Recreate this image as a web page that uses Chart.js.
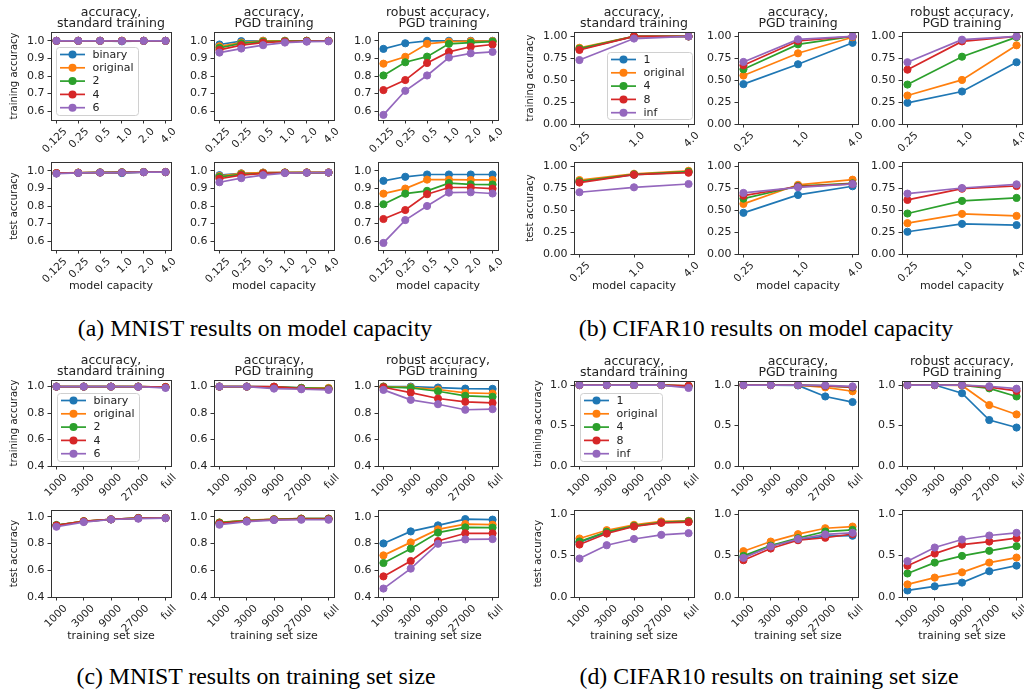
<!DOCTYPE html>
<html><head><meta charset="utf-8">
<script src="https://cdn.jsdelivr.net/npm/chart.js@4.4.1/dist/chart.umd.min.js"></script>
<style>
body{margin:0;width:1024px;height:690px;background:#fff;position:relative;overflow:hidden;}
canvas{position:absolute;}
.cap{position:absolute;font-family:"Liberation Serif","Times New Roman",serif;font-size:23.8px;line-height:26px;color:#000;white-space:nowrap;transform:translateX(-50%);}
</style></head><body>
<div class="cap" style="left:255px;top:315px">(a) MNIST results on model capacity</div>
<div class="cap" style="left:766px;top:315px">(b) CIFAR10 results on model capacity</div>
<div class="cap" style="left:256px;top:663px">(c) MNIST results on training set size</div>
<div class="cap" style="left:769px;top:663px">(d) CIFAR10 results on training set size</div>
<script>
// ---------- categories / tick labels ----------
const capMnist = ['0.125','0.25','0.5','1.0','2.0','4.0'];
const capCifar = ['0.25','1.0','4.0'];
const sizeCats = ['1000','3000','9000','27000','full'];
const seriesMnist = ['binary','original','2','4','6'];
const seriesCifar = ['1','original','4','8','inf'];
const yTicksMnistCap = [0.6,0.7,0.8,0.9,1.0];
const yTicksCifarCap = [0,0.25,0.5,0.75,1.0];
const yTicksMnistSize = [0.4,0.6,0.8,1.0];
const yTicksCifarSize = [0,0.5,1.0];
const colTitles = [['accuracy,','standard training'],['accuracy,','PGD training'],['robust accuracy,','PGD training']];

// ---------- (a) MNIST, model capacity ----------
const aTrainStd = [[1,1,1,0.997,1,1],[1,1,1,1,1,1],[1,1,1,1,1,1],[1,1,1,1,1,1],[1,1,1,0.999,1,1]];
const aTrainPgd = [[0.979,0.998,1,1,1,1],[0.969,0.99,1,1,1,1],[0.96,0.985,0.995,0.998,1,1],[0.948,0.975,0.99,0.996,0.998,0.999],[0.933,0.956,0.975,0.99,0.995,0.997]];
const aTrainRob = [[0.954,0.986,1,1,1,1],[0.870,0.909,0.983,0.995,0.998,0.998],[0.803,0.878,0.910,0.983,0.99,0.995],[0.720,0.777,0.874,0.937,0.966,0.979],[0.579,0.716,0.803,0.905,0.929,0.937]];
const aTestStd = [[0.986,0.989,0.990,0.987,0.992,0.992],[0.987,0.990,0.991,0.991,0.993,0.993],[0.986,0.989,0.991,0.992,0.993,0.993],[0.987,0.989,0.990,0.991,0.992,0.993],[0.984,0.988,0.990,0.990,0.992,0.993]];
const aTestPgd = [[0.975,0.985,0.99,0.99,0.99,0.99],[0.97,0.985,0.99,0.991,0.991,0.991],[0.965,0.98,0.986,0.99,0.99,0.99],[0.955,0.975,0.985,0.989,0.99,0.99],[0.935,0.958,0.975,0.987,0.989,0.99]];
const aTestRob = [[0.943,0.966,0.979,0.979,0.979,0.979],[0.870,0.899,0.950,0.950,0.948,0.948],[0.810,0.870,0.886,0.930,0.923,0.922],[0.726,0.777,0.867,0.905,0.905,0.899],[0.590,0.720,0.800,0.876,0.878,0.871]];

// ---------- (b) CIFAR10, model capacity ----------
const bTrainStd = [[0.855,1,1],[0.87,1,1],[0.86,1,1],[0.845,1,1],[0.73,0.975,1]];
const bTrainPgd = [[0.455,0.682,0.927],[0.553,0.807,0.99],[0.625,0.909,1],[0.67,0.947,1],[0.708,0.966,1]];
const bTrainRob = [[0.242,0.371,0.705],[0.325,0.503,0.898],[0.45,0.768,0.992],[0.62,0.943,1],[0.705,0.962,1]];
const bTestStd = [[0.825,0.905,0.935],[0.844,0.916,0.95],[0.83,0.91,0.94],[0.815,0.905,0.928],[0.705,0.761,0.799]];
const bTestPgd = [[0.47,0.674,0.773],[0.572,0.79,0.848],[0.632,0.776,0.807],[0.666,0.77,0.8],[0.697,0.761,0.799]];
const bTestRob = [[0.254,0.344,0.33],[0.352,0.458,0.435],[0.462,0.606,0.64],[0.617,0.746,0.776],[0.689,0.753,0.795]];

// ---------- (c) MNIST, training set size ----------
const cTrainStd = [[1,1,1,1,0.995],[1,1,1,1,0.997],[1,1,1,1,0.996],[1,1,1,1,0.997],[1,1,1,0.999,0.99]];
const cTrainPgd = [[1,1,0.998,0.99,0.985],[1,1,0.995,0.99,0.99],[1,1,0.998,0.99,0.985],[1,1,1,0.985,0.98],[1,1,0.985,0.98,0.975]];
const cTrainRob = [[1,1,0.993,0.985,0.983],[1,0.995,0.978,0.952,0.948],[0.998,0.99,0.965,0.93,0.923],[0.995,0.955,0.91,0.885,0.877],[0.975,0.90,0.867,0.825,0.83]];
const cTestStd = [[0.935,0.965,0.98,0.99,0.99],[0.935,0.967,0.981,0.99,0.991],[0.938,0.966,0.98,0.99,0.99],[0.935,0.965,0.98,0.989,0.99],[0.925,0.96,0.979,0.985,0.989]];
const cTestPgd = [[0.955,0.97,0.98,0.985,0.985],[0.957,0.972,0.982,0.986,0.986],[0.955,0.97,0.98,0.985,0.985],[0.95,0.968,0.978,0.982,0.982],[0.94,0.963,0.975,0.977,0.977]];
const cTestRob = [[0.80,0.89,0.935,0.982,0.978],[0.711,0.808,0.905,0.945,0.94],[0.654,0.761,0.881,0.92,0.918],[0.554,0.669,0.818,0.876,0.876],[0.463,0.612,0.798,0.83,0.833]];

// ---------- (d) CIFAR10, training set size ----------
const dTrainStd = [[1,1,1,1,0.99],[1,1,1,1,0.99],[1,1,1,1,0.985],[1,1,1,1,0.99],[1,1,1,1,0.964]];
const dTrainPgd = [[1,1,0.995,0.859,0.79],[1,1,1,0.971,0.923],[1,1,1,0.99,0.97],[1,1,1,0.99,0.975],[1,1,1,0.995,0.983]];
const dTrainRob = [[1,1,0.899,0.568,0.475],[1,1,0.995,0.753,0.637],[1,1,1,0.959,0.859],[1,1,1,0.975,0.927],[1,1,1,0.985,0.955]];
const dTestStd = [[0.66,0.78,0.855,0.9,0.91],[0.706,0.806,0.871,0.912,0.919],[0.67,0.786,0.86,0.9,0.915],[0.633,0.766,0.851,0.895,0.903],[0.464,0.625,0.70,0.75,0.77]];
const dTestPgd = [[0.48,0.62,0.69,0.735,0.74],[0.553,0.669,0.758,0.83,0.85],[0.496,0.62,0.71,0.79,0.81],[0.444,0.585,0.685,0.715,0.76],[0.472,0.61,0.70,0.755,0.775]];
const dTestRob = [[0.079,0.129,0.174,0.311,0.379],[0.152,0.234,0.298,0.415,0.476],[0.284,0.415,0.496,0.557,0.613],[0.377,0.524,0.633,0.669,0.71],[0.432,0.597,0.694,0.742,0.774]];

// ---------- styling / layout ----------
const COLORS = ['#1f77b4','#ff7f0e','#2ca02c','#d62728','#9467bd'];
const TXT = '#222';
const AX = '#333';
Chart.defaults.font.family = "'DejaVu Sans', sans-serif";

const panels = [
  {cats:capMnist, series:seriesMnist, yTicks:yTicksMnistCap, dec:1, ymin:0.55, ymax:1.05,
   cols:[51,214,378], W:120, rows:[{top:32,h:88},{top:162,h:88}],
   data:[[aTrainStd,aTrainPgd,aTrainRob],[aTestStd,aTestPgd,aTestRob]],
   xTitle:'model capacity', xGap:36.7, yGap:37.4, legend:{pos:'tl',dx:5,dy:15,w:82,h:68}},
  {cats:capCifar, series:seriesCifar, yTicks:yTicksCifarCap, dec:2, ymin:0, ymax:1.05,
   cols:[574,738,902], W:120, rows:[{top:32,h:92},{top:162,h:92}],
   data:[[bTrainStd,bTrainPgd,bTrainRob],[bTestStd,bTestPgd,bTestRob]],
   xTitle:'model capacity', xGap:32.4, yGap:43.6, legend:{pos:'br',dx:2,dy:5,w:85,h:67}},
  {cats:sizeCats, series:seriesMnist, yTicks:yTicksMnistSize, dec:1, ymin:0.4, ymax:1.05,
   cols:[51,214,378], W:120, rows:[{top:380,h:86},{top:510,h:87}],
   data:[[cTrainStd,cTrainPgd,cTrainRob],[cTestStd,cTestPgd,cTestRob]],
   xTitle:'training set size', xGap:39, yGap:37.4, legend:{pos:'bl',dx:6,dy:5,w:82,h:68}},
  {cats:sizeCats, series:seriesCifar, yTicks:yTicksCifarSize, dec:1, ymin:0, ymax:1.05,
   cols:[574,738,902], W:120, rows:[{top:381,h:85},{top:510,h:87}],
   data:[[dTrainStd,dTrainPgd,dTrainRob],[dTestStd,dTestPgd,dTestRob]],
   xTitle:'training set size', xGap:39, yGap:36.3, legend:{pos:'bl',dx:6,dy:5,w:82,h:68}}
];

const framePlugin = {
  id:'frame',
  afterDatasetsDraw(chart){
    const a = chart.chartArea, ctx = chart.ctx;
    ctx.save(); ctx.strokeStyle = AX; ctx.lineWidth = 1;
    ctx.strokeRect(Math.round(a.left)+0.5, Math.round(a.top)+0.5, Math.round(a.right-a.left), Math.round(a.bottom-a.top));
    ctx.restore();
  }
};
const legendPlugin = {
  id:'insideLegend',
  afterDatasetsDraw(chart, args, o){
    if (!o || !o.pos) return;
    const a = chart.chartArea, ctx = chart.ctx;
    const x = o.pos==='br' ? a.right - o.dx - o.w : a.left + o.dx;
    const y = o.pos==='tl' ? a.top + o.dy : a.bottom - o.dy - o.h;
    ctx.save();
    ctx.beginPath();
    if (ctx.roundRect) ctx.roundRect(x+0.5, y+0.5, o.w, o.h, 3); else ctx.rect(x+0.5,y+0.5,o.w,o.h);
    ctx.fillStyle = 'rgba(255,255,255,0.8)'; ctx.fill();
    ctx.strokeStyle = '#d0d0d0'; ctx.lineWidth = 1; ctx.stroke();
    ctx.font = "11px 'DejaVu Sans'"; ctx.textBaseline = 'middle';
    chart.data.datasets.forEach((ds,i)=>{
      const cy = y + 7.5 + i*13.3;
      ctx.strokeStyle = ds.borderColor; ctx.lineWidth = 1.7;
      ctx.beginPath(); ctx.moveTo(x+4, cy); ctx.lineTo(x+29, cy); ctx.stroke();
      ctx.fillStyle = ds.borderColor;
      ctx.beginPath(); ctx.arc(x+16.5, cy, 4, 0, Math.PI*2); ctx.fill();
      ctx.fillStyle = TXT; ctx.fillText(ds.label, x+36.5, cy+0.5);
    });
    ctx.restore();
  }
};

function makeChart(p, r, c){
  const L = p.cols[c], T = p.rows[r].top, H = p.rows[r].h, W = p.W;
  const YW = c===0 ? Math.round(p.yGap + 6) : 38;
  const RP = 10;
  const TOP = r===0 ? 26 : 10;
  const XH = r===0 ? 40 : Math.round(p.xGap + 6.6);
  const cv = document.createElement('canvas');
  cv.width = YW + W + RP; cv.height = TOP + H + XH;
  cv.style.left = (L - YW) + 'px'; cv.style.top = (T - TOP) + 'px';
  cv.style.width = cv.width + 'px'; cv.style.height = cv.height + 'px';
  document.body.appendChild(cv);
  const vals = p.data[r][c];
  const n = p.cats.length;
  const datasets = p.series.map((name,i)=>({
    label:name,
    data: vals[i].map((v,j)=>({x:j, y:v})),
    borderColor:COLORS[i], backgroundColor:COLORS[i],
    pointBackgroundColor:COLORS[i], pointBorderColor:COLORS[i],
    borderWidth:1.7, pointRadius:3.6, pointBorderWidth:1, order:-i, tension:0
  }));
  const grid = {display:true, drawOnChartArea:false, drawTicks:true, tickLength:3.5, color:AX, lineWidth:1};
  new Chart(cv, {
    type:'line',
    data:{datasets},
    options:{
      responsive:false, animation:false, devicePixelRatio:1,
      layout:{padding:{left:0, right:RP, top: r===0 ? 0 : TOP, bottom:0}},
      plugins:{
        legend:{display:false}, tooltip:{enabled:false},
        title:{display:r===0, text:colTitles[c], color:TXT, fullSize:false,
               font:{size:12.5, weight:'normal', lineHeight:0.88}, padding:{top:1,bottom:3}},
        insideLegend: (r===0 && c===0) ? p.legend : {},
        frame:{}
      },
      scales:{
        x:{type:'linear', min:-0.05*(n-1), max:(n-1)*1.05,
           afterBuildTicks:s=>{ s.ticks = p.cats.map((_,j)=>({value:j})); },
           afterFit:s=>{ s.height = XH; },
           ticks:{callback:v=>p.cats[v], autoSkip:false, minRotation:45, maxRotation:45,
                  font:{size:10.5}, color:TXT, padding:2, labelOffset:9},
           grid, border:{display:false},
           title:{display:r===1, text:p.xTitle, color:TXT, font:{size:11}, padding:0}
        },
        y:{type:'linear', min:p.ymin, max:p.ymax,
           afterBuildTicks:s=>{ s.ticks = p.yTicks.map(v=>({value:v})); },
           afterFit:s=>{ s.width = YW; },
           ticks:{callback:v=>Number(v).toFixed(p.dec), font:{size:11}, color:TXT, padding:3},
           grid, border:{display:false},
           title:{display:c===0, text: r===0 ? 'training accuracy' : 'test accuracy', color:TXT, font:{size:10}, padding:0}
        }
      }
    },
    plugins:[framePlugin, legendPlugin]
  });
}

panels.forEach(p=>{ for (let r=0;r<2;r++) for (let c=0;c<3;c++) makeChart(p,r,c); });
</script>
</body></html>
